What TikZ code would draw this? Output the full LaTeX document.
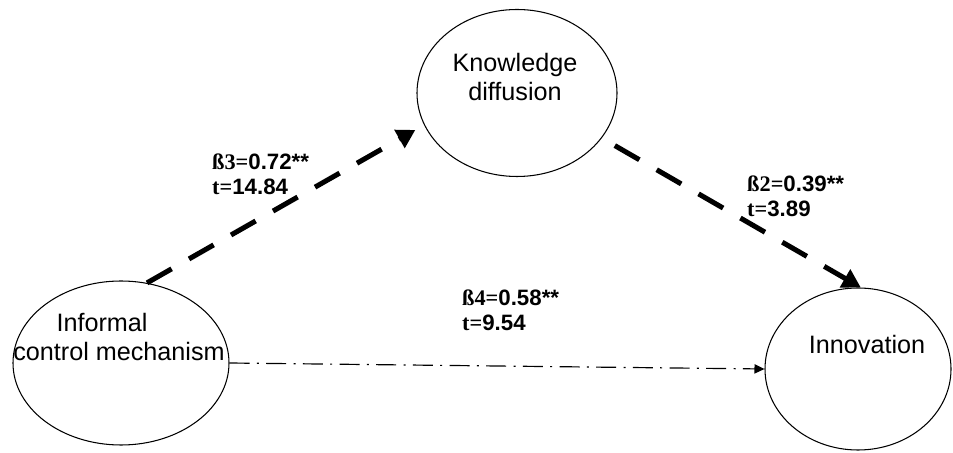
\documentclass[tikz,border=0pt]{standalone}
\usepackage{fontspec}
\setmainfont{Liberation Serif}
\setsansfont{Liberation Sans}
\usetikzlibrary{arrows.meta,shapes.geometric}

\begin{document}
\begin{tikzpicture}[x=0.03cm,y=0.03cm,
  construct/.style={draw,ellipse,line width=0.9pt,inner sep=0pt},
  title/.style={font=\sffamily\fontsize{21.5}{24}\selectfont,align=center,inner sep=0pt},
  coef/.style={font=\sffamily\bfseries\fontsize{19}{21.5}\selectfont,align=left,anchor=west,inner sep=0pt},
  effect/.style={line width=4.3pt,dash pattern=on 0.85cm off 0.6cm,
    -{Triangle[length=0.55cm,width=0.6cm]}},
  direct/.style={line width=1pt,dash pattern=on 0.6cm off 0.22cm on 0.06cm off 0.22cm,
    -{Triangle[length=0.3cm,width=0.28cm]}}]
\useasboundingbox (0,0) rectangle (953,453);

% Draw the three constructs
\node[construct,minimum width=6.48cm,minimum height=4.92cm] (icm) at (121,90) {};
\node[construct,minimum width=6.0cm,minimum height=5.01cm] (kd) at (517,360) {};
\node[construct,minimum width=5.58cm,minimum height=4.86cm] (inn) at (858,84) {};

% Names of the constructs
\node[title] (icmtext) at (119,116) {\hspace*{-1.02cm}Informal\\control mechanism};
\node[title] (kdtext) at (515,376) {Knowledge\\diffusion};
\node[title] (inntext) at (867,108) {Innovation};

% Draw paths
\draw[effect,shorten >=0.3cm] (icm.72) -- (kd.199);
\draw[effect,shorten <=0.45cm] (kd.-28) -- (inn.88);
\draw[direct] (icm.east) -- (inn.west);

% Path coefficients
\node[coef] (b3) at (212,278.5) {{\rmfamily\bfseries ß3=}0.72**\\{\rmfamily\bfseries t=}14.84};
\node[coef] (b2) at (747,257) {{\rmfamily\bfseries ß2=}0.39**\\{\rmfamily\bfseries t=}3.89};
\node[coef] (b4) at (462,143) {{\rmfamily\bfseries ß4=}0.58**\\{\rmfamily\bfseries t=}9.54};

\end{tikzpicture}
\end{document}
